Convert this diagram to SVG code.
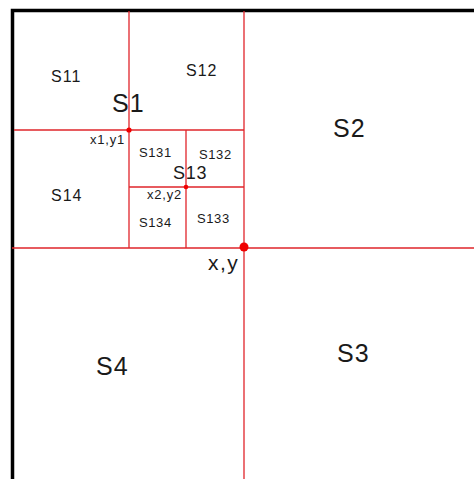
<svg xmlns="http://www.w3.org/2000/svg" width="474" height="479" viewBox="0 0 474 479">
<style>
.b{stroke:#000;stroke-width:3.5;fill:none}
.r{stroke:#e0262b;stroke-width:1.3;fill:none}
.d{fill:#f00000}
text{font-family:"Liberation Sans",Arial,sans-serif;fill:#1a1a1a}
.L{font-size:25px;letter-spacing:1px}
.M{font-size:16px;letter-spacing:1px}
.S{font-size:13px;letter-spacing:0.6px}
.P{font-size:13px;letter-spacing:0.8px}
</style>
<rect width="474" height="479" fill="#fff"/>
<g id="border">
<path class="b" d="M12.5 479V10.5H474"/>
</g>
<g id="lines">
<path class="r" d="M244 11V479M12 248H474M129 11V248M14 130H244M186 130V248M129 187H244"/>
</g>
<g id="points">
<circle class="d" cx="129" cy="130" r="2.6"/>
<circle class="d" cx="186" cy="187" r="2.3"/>
<circle class="d" cx="244" cy="247" r="4.5"/>
</g>
<g id="labels">
<text class="M" x="51" y="82">S11</text>
<text class="M" x="186" y="76">S12</text>
<text class="L" x="112" y="112">S1</text>
<text class="L" x="333" y="137">S2</text>
<text class="P" x="90" y="144">x1,y1</text>
<text class="S" x="139" y="157">S131</text>
<text class="S" x="199" y="159">S132</text>
<text class="M" style="font-size:18px;letter-spacing:0.8px" x="173" y="179">S13</text>
<text class="P" x="147" y="199">x2,y2</text>
<text class="M" x="51" y="201">S14</text>
<text class="S" x="139" y="227">S134</text>
<text class="S" x="197" y="223">S133</text>
<text style="font-size:21px;letter-spacing:1.5px" x="208" y="270">x,y</text>
<text class="L" x="96" y="375">S4</text>
<text class="L" x="337" y="362">S3</text>
</g>
</svg>
